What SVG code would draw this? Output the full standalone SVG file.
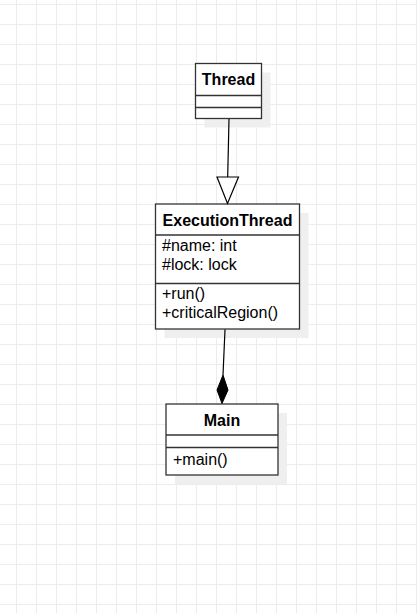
<svg xmlns="http://www.w3.org/2000/svg" width="417" height="613" viewBox="0 0 417 613">
<style>
.box{fill:#ffffff;stroke:#333333;stroke-width:1.3}
.shadow{fill:#efefef}
.div{stroke:#333333;stroke-width:1.3}
.title{font-family:"Liberation Sans",Arial,sans-serif;font-size:16px;font-weight:bold;fill:#000000;text-anchor:middle}
.mem{font-family:"Liberation Sans",Arial,sans-serif;font-size:16px;fill:#000000}
.edge{stroke:#000000;stroke-width:1.2;fill:none}
</style>
<defs>
<pattern id="grid" x="16" y="4" width="20" height="20" patternUnits="userSpaceOnUse">
<path d="M0.5 0 V20 M0 0.5 H20" stroke="#ececec" stroke-width="1" fill="none"/>
</pattern>
</defs>
<rect x="0" y="0" width="417" height="613" fill="#ffffff"/>
<rect x="0" y="0" width="417" height="613" fill="url(#grid)"/>
<g id="Thread">
<rect class="shadow" x="204.5" y="72.5" width="66" height="55"/>
<rect class="box" x="195.5" y="63.5" width="66" height="55"/>
<line class="div" x1="195.5" y1="95.5" x2="261.5" y2="95.5"/>
<line class="div" x1="195.5" y1="107.5" x2="261.5" y2="107.5"/>
<text class="title" x="228.5" y="85">Thread</text>
</g>
<g id="ExecutionThread">
<rect class="shadow" x="164.5" y="213" width="144" height="125"/>
<rect class="box" x="155.5" y="204" width="144" height="125"/>
<line class="div" x1="155.5" y1="235" x2="299.5" y2="235"/>
<line class="div" x1="155.5" y1="283.5" x2="299.5" y2="283.5"/>
<text class="title" x="227.5" y="225.5">ExecutionThread</text>
<text class="mem" x="162" y="250.5">#name: int</text>
<text class="mem" x="162" y="269.5">#lock: lock</text>
<text class="mem" x="162" y="299">+run()</text>
<text class="mem" x="162" y="318">+criticalRegion()</text>
</g>
<g id="Main">
<rect class="shadow" x="175" y="413" width="112" height="71"/>
<rect class="box" x="166" y="404" width="112" height="71"/>
<line class="div" x1="166" y1="435" x2="278" y2="435"/>
<line class="div" x1="166" y1="447.5" x2="278" y2="447.5"/>
<text class="title" x="222" y="425.5">Main</text>
<text class="mem" x="173" y="465">+main()</text>
</g>
<g id="connectors">
<path class="edge" d="M229 119 L227.7 177"/>
<polygon points="217,177 238.5,177 227.5,203.5" fill="#ffffff" stroke="#000000" stroke-width="1.2"/>
<path class="edge" d="M225 329.5 L223 375"/>
<polygon points="223,375 217,390 222,403.5 228,390" fill="#000000" stroke="#000000" stroke-width="1"/>
</g>
</svg>
